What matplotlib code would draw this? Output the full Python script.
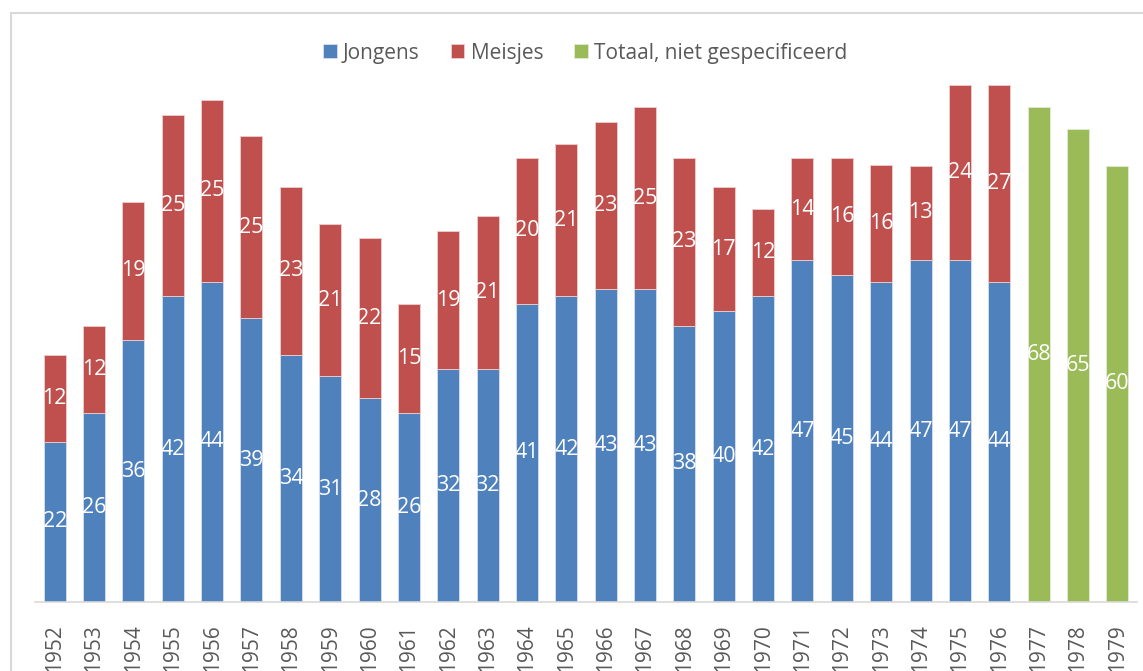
import matplotlib.pyplot as plt
import matplotlib.patches as mpatches
import numpy as np

plt.rcParams['font.family'] = ['Open Sans', 'DejaVu Sans']

years = [str(y) for y in range(1952, 1980)]
jongens = [22, 26, 36, 42, 44, 39, 34, 31, 28, 26, 32, 32, 41, 42, 43, 43, 38, 40, 42, 47, 45, 44, 47, 47, 44]
meisjes = [12, 12, 19, 25, 25, 25, 23, 21, 22, 15, 19, 21, 20, 21, 23, 25, 23, 17, 12, 14, 16, 16, 13, 24, 27]
totaal = [68, 65, 60]

blue = "#4F81BD"
red = "#C0504D"
green = "#9BBB59"

fig = plt.figure(figsize=(11.43, 6.71), dpi=100)
ax = fig.add_axes([35 / 1143, 1 - 602 / 671, 1102 / 1143, 582 / 671])

x = np.arange(len(years))
xs = x[:len(jongens)]
xg = x[len(jongens):]
w = 0.56

b1 = ax.bar(xs, jongens, w, color=blue, edgecolor="#D6E0EE", linewidth=0.6, label="Jongens")
b2 = ax.bar(xs, meisjes, w, bottom=jongens, color=red, edgecolor="#EDCFCE", linewidth=0.6, label="Meisjes")
b3 = ax.bar(xg, totaal, w, color=green, edgecolor="#E2EBD5", linewidth=0.6, label="Totaal, niet gespecificeerd")

for bars in (b1, b2, b3):
    ax.bar_label(bars, label_type="center", color="white", fontsize=15.5)

ax.set_xlim(-0.5, 27.5)
ax.set_ylim(0, 80)
ax.set_xticks(x)
ax.set_xticklabels(years, rotation=90, fontsize=15, color="#595959", va="top")
ax.tick_params(axis="x", length=0, pad=16)
ax.set_yticks([])
for s in ("top", "right", "left"):
    ax.spines[s].set_visible(False)
ax.spines["bottom"].set_color("#D9D9D9")
ax.spines["bottom"].set_linewidth(1.2)

fig.legend(handles=[b1, b2, b3], loc="center", bbox_to_anchor=(0.512, 1 - 53 / 671), ncol=3,
           frameon=False, fontsize=15, labelcolor="#595959", handlelength=0.65, handleheight=0.65,
           handletextpad=0.3, columnspacing=1.5)

frame = mpatches.Rectangle((11 / 1143, -0.1), 1.2, 1 - 13 / 671 + 0.1, transform=fig.transFigure,
                           fill=False, edgecolor="#D9D9D9", linewidth=1.5)
fig.patches.append(frame)

fig.savefig("out.png", dpi=100)
